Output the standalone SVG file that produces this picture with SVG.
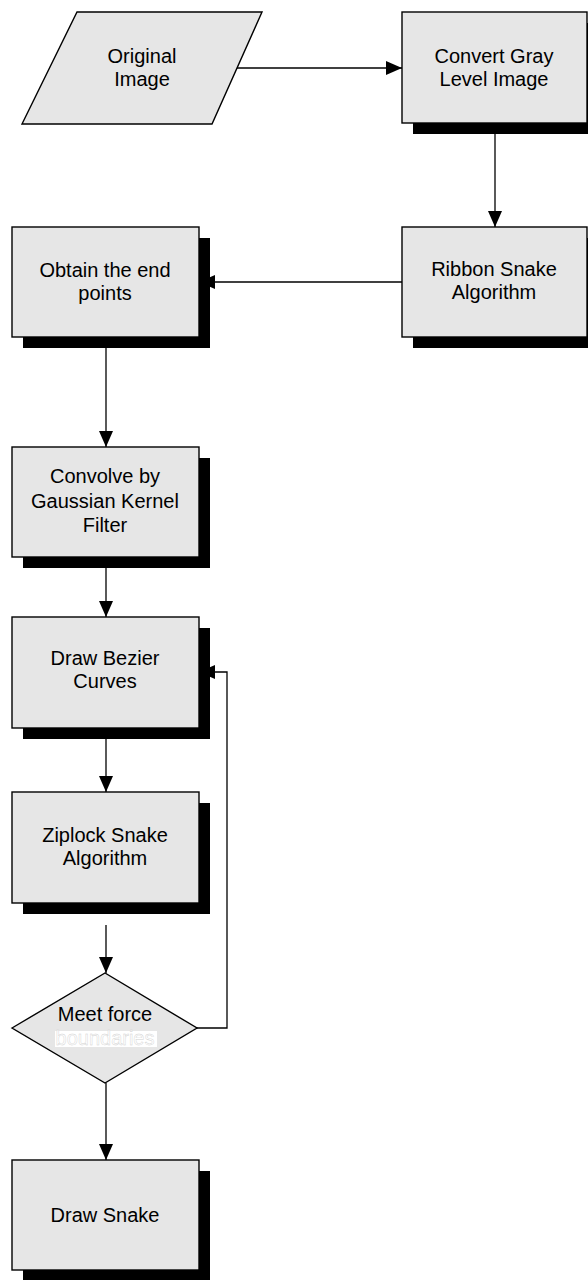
<svg xmlns="http://www.w3.org/2000/svg" width="588" height="1280" viewBox="0 0 588 1280">
<defs>
<marker id="ah" markerUnits="userSpaceOnUse" markerWidth="16" markerHeight="14" refX="16" refY="7" orient="auto">
<path d="M0,0 L16,7 L0,14 z" fill="#000"/>
</marker>
<style>
.box{fill:#e6e6e6;stroke:#000;stroke-width:1.4}
.sh{fill:#000}
.t{font-family:"Liberation Sans",Arial,sans-serif;font-size:20px;text-anchor:middle;fill:#000}
.c{fill:none;stroke:#000;stroke-width:1.3}
</style>
</defs>
<rect width="588" height="1280" fill="#fff"/>
<g id="connectors">
<path class="c" d="M237,68 H402" marker-end="url(#ah)"/>
<path class="c" d="M495,123 V227" marker-end="url(#ah)"/>
<path class="c" d="M402,282 H199" marker-end="url(#ah)"/>
<path class="c" d="M106,337 V447" marker-end="url(#ah)"/>
<path class="c" d="M106,557 V617" marker-end="url(#ah)"/>
<path class="c" d="M106,728 V792" marker-end="url(#ah)"/>
<path class="c" d="M106,925 V973" marker-end="url(#ah)"/>
<path class="c" d="M197,1028 H227 V672 H199" marker-end="url(#ah)"/>
<path class="c" d="M106,1083 V1160" marker-end="url(#ah)"/>
</g>
<g id="original-image">
<polygon class="box" points="77,12 262,12 212,124 22,124"/>
<text class="t" x="142" y="63">Original</text>
<text class="t" x="142" y="86">Image</text>
</g>
<g id="convert-gray">
<rect class="sh" x="413" y="23" width="185" height="111"/>
<rect class="box" x="402" y="12" width="185" height="111"/>
<text class="t" x="494" y="63">Convert Gray</text>
<text class="t" x="494" y="86">Level Image</text>
</g>
<g id="ribbon-snake">
<rect class="sh" x="413" y="238" width="185" height="110"/>
<rect class="box" x="402" y="227" width="185" height="110"/>
<text class="t" x="494" y="276">Ribbon Snake</text>
<text class="t" x="494" y="299">Algorithm</text>
</g>
<g id="obtain-end-points">
<rect class="sh" x="23" y="238" width="187" height="110"/>
<rect class="box" x="12" y="227" width="187" height="110"/>
<text class="t" x="105" y="277">Obtain the end</text>
<text class="t" x="105" y="300">points</text>
</g>
<g id="convolve">
<rect class="sh" x="23" y="458" width="187" height="110"/>
<rect class="box" x="12" y="447" width="187" height="110"/>
<text class="t" x="105" y="483">Convolve by</text>
<text class="t" x="105" y="508">Gaussian Kernel</text>
<text class="t" x="105" y="532">Filter</text>
</g>
<g id="draw-bezier">
<rect class="sh" x="23" y="628" width="187" height="111"/>
<rect class="box" x="12" y="617" width="187" height="111"/>
<text class="t" x="105" y="665">Draw Bezier</text>
<text class="t" x="105" y="688">Curves</text>
</g>
<g id="ziplock">
<rect class="sh" x="23" y="803" width="187" height="111"/>
<rect class="box" x="12" y="792" width="187" height="111"/>
<text class="t" x="105" y="842">Ziplock Snake</text>
<text class="t" x="105" y="865">Algorithm</text>
</g>
<g id="meet-force">
<polygon class="box" points="12,1028 105,973 197,1028 105,1083"/>
<text class="t" x="105" y="1021">Meet force</text>
<rect x="55" y="1031" width="102" height="16" fill="#fff"/>
<text class="t" x="105" y="1045" style="fill:#fff;stroke:#d0d0d0;stroke-width:0.4">boundaries</text>
</g>
<g id="draw-snake">
<rect class="sh" x="23" y="1171" width="187" height="110"/>
<rect class="box" x="12" y="1160" width="187" height="110"/>
<text class="t" x="105" y="1222">Draw Snake</text>
</g>
</svg>
